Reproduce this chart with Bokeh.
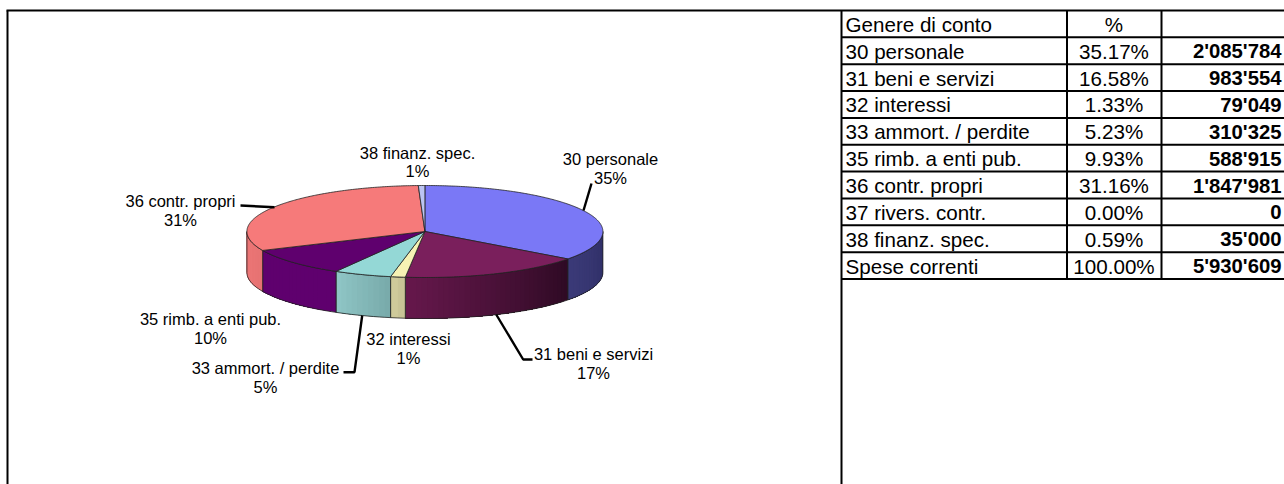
import math
from bokeh.plotting import figure
from bokeh.models import Range1d
from bokeh.embed import file_html
from bokeh.resources import INLINE

# ---- data ----
account_labels = ["30 personale", "31 beni e servizi", "32 interessi", "33 ammort. / perdite",
                  "35 rimb. a enti pub.", "36 contr. propri", "37 rivers. contr.", "38 finanz. spec."]
account_pct = ["35.17%", "16.58%", "1.33%", "5.23%", "9.93%", "31.16%", "0.00%", "0.59%"]
account_values = [2085784, 983554, 79049, 310325, 588915, 1847981, 0, 35000]
account_value_text = ["2'085'784", "983'554", "79'049", "310'325", "588'915", "1'847'981", "0", "35'000"]
total_label = "Spese correnti"
total_pct = "100.00%"
total_value_text = "5'930'609"
table_head = ["Genere di conto", "%", ""]
pie_pct_labels = ["35%", "17%", "1%", "5%", "10%", "31%", "", "1%"]

# ---- styles ----
top_colors = ["#7A78F6", "#7A1F5C", "#F6F2B4", "#94D8D6", "#5F006E", "#F67A7A", "#9999FF", "#BCC4F2"]
side_left = ["#3B3A78", "#66184C", "#D2CE9C", "#8FC6C6", "#5F006E", "#EE7878", "#888888", "#8A90B0"]
side_right = ["#2F2F66", "#2E0A24", "#C4C094", "#78AAAA", "#5F006E", "#E67272", "#888888", "#8A90B0"]

W, H = 1284, 484
p = figure(width=W, height=H, output_backend="svg", toolbar_location=None,
           x_range=Range1d(0, W), y_range=Range1d(H, 0), min_border=0,
           outline_line_color=None, x_axis_type=None, y_axis_type=None)
p.grid.visible = False

FONT = {"value": "Liberation Sans"}
cx, cy, rx, ry, depth = 424.4, 231.0, 178.0, 46.0, 41.0

def pt(theta):
    return cx + rx * math.sin(theta), cy - ry * math.cos(theta)

total = sum(account_values)
edges = [0.0]
for v in account_values:
    edges.append(edges[-1] + v / total * 2 * math.pi)

def hexmix(a, b, t):
    ca = [int(a[i:i + 2], 16) for i in (1, 3, 5)]
    cb = [int(b[i:i + 2], 16) for i in (1, 3, 5)]
    return "#%02x%02x%02x" % tuple(round(x + (y - x) * t) for x, y in zip(ca, cb))

# side walls (front half only), shaded in vertical strips that overlap to hide seams
for i in range(len(account_values)):
    a0, a1 = max(edges[i], math.pi / 2), min(edges[i + 1], 3 * math.pi / 2)
    if a1 <= a0:
        continue
    n = max(2, int((a1 - a0) / 0.03))
    th = [a0 + (a1 - a0) * k / n for k in range(n + 1)]
    xs = [pt(t)[0] for t in th]
    ys = [pt(t)[1] for t in th]
    # painted from the right end to the left; each strip reaches to the far end
    for k in range(n):
        t = 1 - (k + 0.5) / n
        col = hexmix(side_left[i], side_right[i], t)
        p.patch(xs[k:] + xs[k:][::-1], ys[k:] + [y + depth for y in ys[k:][::-1]],
                fill_color=col, line_color=None)
    p.line(xs + xs[::-1] + xs[:1], ys + [y + depth for y in ys[::-1]] + ys[:1],
           line_color="#222222", line_width=0.8)

# top faces
for i in range(len(account_values)):
    if account_values[i] == 0:
        continue
    a0, a1 = edges[i], edges[i + 1]
    n = max(4, int((a1 - a0) / 0.01))
    th = [a0 + (a1 - a0) * k / n for k in range(n + 1)]
    xs = [cx] + [pt(t)[0] for t in th]
    ys = [cy] + [pt(t)[1] for t in th]
    p.patch(xs, ys, fill_color=top_colors[i], line_color="#222222", line_width=0.8)

# leader lines
leaders = [
    ([583, 591], [210, 183]),
    ([495.7, 522.7, 532], [314, 359, 359]),
    ([361.7, 354, 343], [315, 371.7, 371.7]),
    ([240, 274], [205, 206.7]),
]
for xs, ys in leaders:
    p.line(xs, ys, line_color="black", line_width=2.4)

# pie labels: (x, first line y, second line y)
label_pos = {0: (610, 158.5, 177.5), 1: (593, 353.5, 372.5), 2: (408, 338, 357.5), 3: (265, 367, 386),
             4: (210, 318, 337), 5: (180, 200.5, 219.5), 7: (417, 152, 170.5)}
LBL = "16.5px"
for i, (x, y1, y2) in label_pos.items():
    for txt, yy in ((account_labels[i], y1), (pie_pct_labels[i], y2)):
        p.text([x], [yy], text=[txt], text_font=FONT, text_font_size=LBL,
               text_align="center", text_baseline="middle", text_color="black")

# chart frame
p.line([6, W], [10, 10], line_color="black", line_width=2)
p.line([7, 7], [10, H], line_color="black", line_width=2)

# table
col_x = [841, 1066.5, 1161]
row_h = 26.85
top = 10
for k in range(1, 11):
    y = top + row_h * k
    p.line([841, W], [y, y], line_color="black", line_width=2)
for k, x in enumerate(col_x):
    p.line([x, x], [top, H if k == 0 else top + row_h * 10], line_color="black", line_width=2)

rows = [table_head] + [[a, b, c] for a, b, c in zip(account_labels, account_pct, account_value_text)] \
       + [[total_label, total_pct, total_value_text]]
for r, row in enumerate(rows):
    y = top + row_h * (r + 0.5) + 0.5
    p.text([845], [y], text=[row[0]], text_font=FONT, text_font_size="20.6px",
           text_align="left", text_baseline="middle", text_color="black")
    p.text([1113.5], [y], text=[row[1]], text_font=FONT, text_font_size="20.6px",
           text_align="center", text_baseline="middle", text_color="black")
    if row[2]:
        p.text([1281], [y], text=[row[2]], text_font=FONT, text_font_size="20.3px",
               text_font_style="bold", text_align="right", text_baseline="middle", text_color="black")

open("out.html", "w").write(file_html(p, INLINE))
